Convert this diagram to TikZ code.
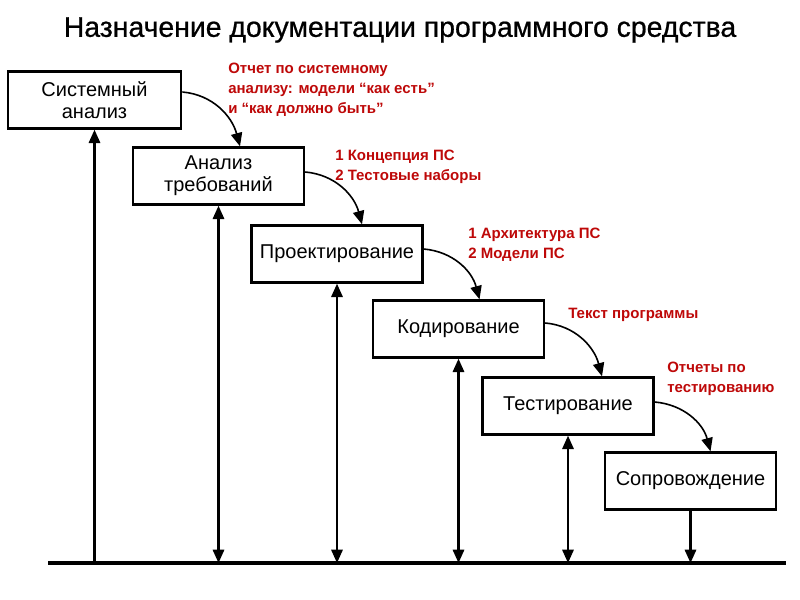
\documentclass[tikz,border=0pt]{standalone}
\usepackage{fontspec}
\setmainfont{Liberation Sans}
\newfontfamily\titlefont[FakeBold=0.7]{Liberation Sans}
\usetikzlibrary{arrows.meta,calc}
\definecolor{lblred}{RGB}{190,8,8}
\tikzset{
  stagebox/.style={draw=black, line width=1.8pt, fill=white, minimum width=128.25pt, minimum height=42.75pt, align=center, inner sep=0pt, font=\fontsize{15pt}{16.5pt}\selectfont},
  vline/.style={line width=1.6pt},
  curvearrow/.style={line width=1.2pt, -{Triangle[length=10pt,width=8.5pt]}},
  redlbl/.style={text=lblred, anchor=north west, inner sep=0pt, align=left, font=\bfseries\fontsize{11.25pt}{15pt}\selectfont},
}
\begin{document}
\begin{tikzpicture}[x=0.75pt,y=-0.75pt]
\useasboundingbox (0,0) rectangle (800,600);
\fill[white] (0,0) rectangle (800,600);

\node[font=\titlefont\fontsize{21.3pt}{24pt}\selectfont] (title) at (400,30) {Назначение документации программного средства};

\node[stagebox, minimum width=130pt] (b1) at (94.5,100) {Системный\\анализ};
\node[stagebox] (b2) at (218.5,176) {Анализ\\требований};
\node[stagebox] (b3) at (337,254) {Проектирование};
\node[stagebox] (b4) at (458.5,329) {Кодирование};
\node[stagebox] (b5) at (568,406) {Тестирование};
\node[stagebox] (b6) at (690.5,481) {Сопровождение};

\coordinate (g0) at (48,563);
\coordinate (g1) at (786,563);
\draw[line width=2.4pt] (g0) -- (g1);

% vertical connectors
\draw[vline, -{Triangle[length=10pt,width=8.5pt]}] (b1.south |- g0) -- (b1.south);
\draw[vline, {Triangle[length=10pt,width=8.5pt]}-{Triangle[length=10pt,width=8.5pt]}] (b2.south) -- (b2.south |- g0);
\draw[vline, {Triangle[length=10pt,width=8.5pt]}-{Triangle[length=10pt,width=8.5pt]}] (b3.south) -- (b3.south |- g0);
\draw[vline, {Triangle[length=10pt,width=8.5pt]}-{Triangle[length=10pt,width=8.5pt]}] (b4.south) -- (b4.south |- g0);
\draw[vline, {Triangle[length=10pt,width=8.5pt]}-{Triangle[length=10pt,width=8.5pt]}] (b5.south) -- (b5.south |- g0);
\draw[vline, -{Triangle[length=10pt,width=8.5pt]}] (b6.south) -- (b6.south |- g0);

% curved connectors
\draw[curvearrow] ($(b1.east)+(0,-8)$) to[out=-5,in=105] ($(b2.north)+(21.5,0)$);
\draw[curvearrow] ($(b2.east)+(0,-4)$) to[out=-5,in=105] ($(b3.north)+(25,0)$);
\draw[curvearrow] ($(b3.east)+(0,-5)$) to[out=-5,in=105] ($(b4.north)+(21,0)$);
\draw[curvearrow] ($(b4.east)+(0,-6)$) to[out=-5,in=105] ($(b5.north)+(34,0)$);
\draw[curvearrow] ($(b5.east)+(0,-4)$) to[out=-5,in=105] ($(b6.north)+(20,0)$);

% red labels
\node[redlbl] (l1) at (228,63) {Отчет по системному\\анализу: модели “как есть”\\и “как должно быть”};
\node[redlbl] (l2) at (335,150) {1 Концепция ПС\\2 Тестовые наборы};
\node[redlbl] (l3) at (468,228) {1 Архитектура ПС\\2 Модели ПС};
\node[redlbl] (l4) at (568,308) {Текст программы};
\node[redlbl] (l5) at (667,362) {Отчеты по\\тестированию};
\end{tikzpicture}
\end{document}
